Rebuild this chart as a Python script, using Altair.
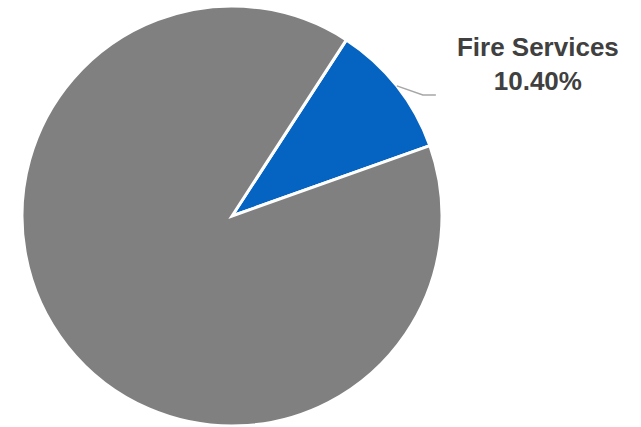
import math
import altair as alt
import pandas as pd

categories = ["Fire Services", "Other"]
values = [10.40, 89.60]
colors = ["#0563C1", "#808080"]
labels = ["Fire Services", "10.40%"]

W, H = 641, 427
CX, CY, R = 232, 216, 210
START_DEG = 33.0

df = pd.DataFrame({"category": categories, "value": values, "order": list(range(len(categories)))})

start = math.radians(START_DEG)
theta_scale = alt.Scale(range=[start, start + 2 * math.pi])

pie = alt.Chart(df).mark_arc(outerRadius=R, stroke="white", strokeWidth=3).encode(
    theta=alt.Theta("value:Q", stack=True, scale=theta_scale),
    color=alt.Color("category:N", scale=alt.Scale(domain=categories, range=colors), legend=None),
    order=alt.Order("order:Q"),
    x=alt.value(CX),
    y=alt.value(CY),
)

# leader line from the midpoint of the Fire Services slice
mid = math.radians(START_DEG + values[0] / 2 * 3.6)
px, py = CX + R * math.sin(mid), CY - R * math.cos(mid)
line_df = pd.DataFrame({
    "x": [px, px + 26, px + 39],
    "y": [py, py + 9, py + 9],
    "i": [0, 1, 2],
})
leader = alt.Chart(line_df).mark_line(color="#A6A6A6", strokeWidth=1.5).encode(
    x=alt.X("x:Q", scale=None),
    y=alt.Y("y:Q", scale=None),
    order="i:Q",
)

lx = px + 141
text_df = pd.DataFrame({"t": labels, "x": [lx, lx], "y": [py - 30, py + 4]})
text = alt.Chart(text_df).mark_text(
    font="Liberation Sans", fontSize=26, fontWeight="bold", color="#404040",
    align="center", baseline="alphabetic",
).encode(
    x=alt.X("x:Q", scale=None),
    y=alt.Y("y:Q", scale=None),
    text="t:N",
)

chart = alt.layer(pie, leader, text).properties(
    width=W, height=H, autosize=alt.AutoSizeParams(type="none"), padding=0,
).configure_view(stroke=None)

chart.save("out.html", embed_options={"renderer": "svg", "actions": False})
